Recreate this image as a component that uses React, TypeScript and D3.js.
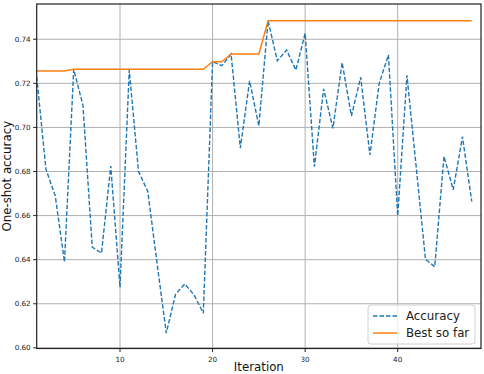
import React from "react";
import * as d3 from "d3";

const iterations: number[] = Array.from({ length: 48 }, (_, i) => i + 1);
const accuracy: number[] = [
  0.723, 0.681, 0.669, 0.639, 0.7264, 0.71, 0.6457, 0.643, 0.6825, 0.6275,
  0.726, 0.68, 0.671, 0.6385, 0.6067, 0.6243, 0.629, 0.624, 0.6157, 0.7298,
  0.728, 0.7333, 0.6906, 0.7211, 0.7007, 0.7484, 0.7302, 0.7351, 0.726, 0.7427,
  0.6822, 0.7175, 0.6996, 0.7294, 0.7052, 0.7228, 0.6875, 0.72, 0.7329, 0.6599,
  0.7236, 0.682, 0.6402, 0.6368, 0.6869, 0.6717, 0.6958, 0.6664,
];
const bestSoFar: number[] = [
  0.7256, 0.7256, 0.7256, 0.7256, 0.7264, 0.7264, 0.7264, 0.7264, 0.7264, 0.7264,
  0.7264, 0.7264, 0.7264, 0.7264, 0.7264, 0.7264, 0.7264, 0.7264, 0.7264, 0.7298,
  0.7298, 0.7333, 0.7333, 0.7333, 0.7333, 0.7484, 0.7484, 0.7484, 0.7484, 0.7484,
  0.7484, 0.7484, 0.7484, 0.7484, 0.7484, 0.7484, 0.7484, 0.7484, 0.7484, 0.7484,
  0.7484, 0.7484, 0.7484, 0.7484, 0.7484, 0.7484, 0.7484, 0.7484,
];
const xTicks: number[] = [10, 20, 30, 40];
const yTicks: number[] = [0.6, 0.62, 0.64, 0.66, 0.68, 0.7, 0.72, 0.74];
const seriesNames: string[] = ["Accuracy", "Best so far"];
const xLabel = "Iteration";
const yLabel = "One-shot accuracy";

const W = 484;
const H = 374;
const left = 36.7;
const right = 481;
const top = 4;
const bottom = 348.5;

export default function App() {
  const x = d3.scaleLinear().domain([1, 49]).range([left, right]);
  const y = d3.scaleLinear().domain([0.5997, 0.756]).range([bottom, top]);
  const line = d3
    .line<number>()
    .x((_, i) => x(iterations[i]))
    .y((d) => y(d));
  const font = "DejaVu Sans, sans-serif";
  const blue = "#1f77b4";
  const orange = "#ff7f0e";
  const lx = 368;
  const ly = 305;
  return (
    <svg
      width={W}
      height={H}
      style={{ position: "absolute", left: 0, top: 0, background: "#fff" }}
      fontFamily={font}
    >
      <rect x={0} y={0} width={W} height={H} fill="#fff" />
      <defs>
        <clipPath id="plot">
          <rect x={left} y={top} width={right - left} height={bottom - top} />
        </clipPath>
      </defs>
      {xTicks.map((t) => (
        <line key={"gx" + t} x1={x(t)} x2={x(t)} y1={top} y2={bottom} stroke="#b0b0b0" strokeWidth={1} />
      ))}
      {yTicks.map((t) => (
        <line key={"gy" + t} x1={left} x2={right} y1={y(t)} y2={y(t)} stroke="#b0b0b0" strokeWidth={1} />
      ))}
      <g clipPath="url(#plot)">
        <path d={line(accuracy) || ""} fill="none" stroke={blue} strokeWidth={1.4} strokeDasharray="4.5,2" />
        <path d={line(bestSoFar) || ""} fill="none" stroke={orange} strokeWidth={1.5} />
      </g>
      <rect x={left} y={top} width={right - left} height={bottom - top} fill="none" stroke="#222" strokeWidth={1.2} />
      {xTicks.map((t) => (
        <g key={"tx" + t}>
          <line x1={x(t)} x2={x(t)} y1={bottom} y2={bottom + 3.5} stroke="#222" strokeWidth={1} />
          <text x={x(t)} y={bottom + 13} fontSize={7.2} textAnchor="middle" fill="#222">
            {t}
          </text>
        </g>
      ))}
      {yTicks.map((t) => (
        <g key={"ty" + t}>
          <line x1={left - 3.5} x2={left} y1={y(t)} y2={y(t)} stroke="#222" strokeWidth={1} />
          <text x={left - 6} y={y(t) + 2.5} fontSize={7.2} textAnchor="end" fill="#222">
            {d3.format(".2f")(t)}
          </text>
        </g>
      ))}
      <text x={(left + right) / 2} y={370.5} fontSize={11.8} textAnchor="middle" fill="#111">
        {xLabel}
      </text>
      <text
        transform={`translate(10.5, ${(top + bottom) / 2}) rotate(-90)`}
        fontSize={11.8}
        textAnchor="middle"
        fill="#111"
      >
        {yLabel}
      </text>
      <g>
        <rect x={lx} y={ly} width={107} height={39} rx={3} fill="#fff" fillOpacity={0.8} stroke="#d0d0d0" strokeWidth={1} />
        <line x1={lx + 5} x2={lx + 29} y1={ly + 11} y2={ly + 11} stroke={blue} strokeWidth={1.4} strokeDasharray="4.5,2" />
        <text x={lx + 38} y={ly + 15} fontSize={11.8} fill="#222">
          {seriesNames[0]}
        </text>
        <line x1={lx + 5} x2={lx + 29} y1={ly + 28} y2={ly + 28} stroke={orange} strokeWidth={1.5} />
        <text x={lx + 38} y={ly + 32} fontSize={11.8} fill="#222">
          {seriesNames[1]}
        </text>
      </g>
    </svg>
  );
}
